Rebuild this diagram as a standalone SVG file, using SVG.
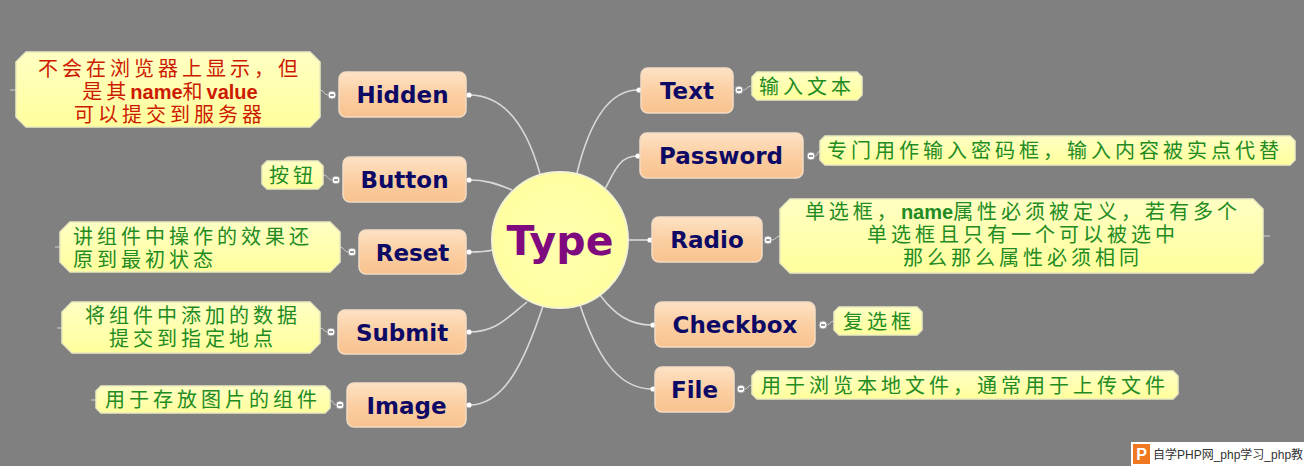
<svg xmlns="http://www.w3.org/2000/svg" width="1304" height="466" viewBox="0 0 1304 466">
<defs>
<linearGradient id="peach" x1="0" y1="0" x2="0" y2="1">
<stop offset="0" stop-color="#fde2c4"/>
<stop offset="0.5" stop-color="#fbcfa3"/>
<stop offset="1" stop-color="#f8c28e"/>
</linearGradient>
<linearGradient id="yel" x1="0" y1="0" x2="0" y2="1">
<stop offset="0" stop-color="#ffffc4"/>
<stop offset="1" stop-color="#ffff9c"/>
</linearGradient>
<radialGradient id="core" cx="0.5" cy="0.5" r="0.5">
<stop offset="0" stop-color="#ffffb0"/>
<stop offset="1" stop-color="#ffffa0"/>
</radialGradient>
</defs>
<style>
.box{fill:url(#peach);stroke:#f4dcc4;stroke-width:1.5}
.note{fill:url(#yel);stroke:#ecebc0;stroke-width:1.5}
.lbl{font-family:"DejaVu Sans",Verdana,sans-serif;font-weight:bold;font-size:23px;fill:#0d0a66;text-anchor:middle}
.nt{font-family:"Liberation Sans","Noto Sans CJK SC",sans-serif;font-size:20px;letter-spacing:4px;fill:#228b22}
.red{fill:#cc1a00}
.b{font-family:"Liberation Sans",sans-serif;font-weight:bold;font-size:20px;letter-spacing:0}
.con{fill:none;stroke:#d9d9d9;stroke-width:1.6}
.sm{fill:none;stroke:#d0d0d0;stroke-width:1}
.dot{fill:#ffffff}
.tog{fill:#ffffff;stroke:#9a9a9a;stroke-width:1}
.dash{stroke:#555;stroke-width:1.2}
</style>
<rect x="0" y="0" width="1304" height="466" fill="#808080"/>

<g id="connectors">
<path class="con" d="M577,173 C590,120 610,90 638,90"/>
<path class="con" d="M605,189 C615,170 620,156 637,156"/>
<path class="con" d="M628,240 L649,240"/>
<path class="con" d="M600,295 C615,315 630,325 652,325"/>
<path class="con" d="M580,305 C595,350 615,389 652,389"/>
<path class="con" d="M540,174 C525,120 500,95 469,95"/>
<path class="con" d="M512,190 C495,183 485,180 469,180"/>
<path class="con" d="M493,250 C485,252 478,252 469,252"/>
<path class="con" d="M527,302 C505,320 495,332 469,332"/>
<path class="con" d="M543,306 C525,360 505,405 469,405"/>
<circle class="dot" cx="639" cy="90" r="2.6"/>
<circle class="dot" cx="638" cy="156" r="2.6"/>
<circle class="dot" cx="650" cy="240" r="2.6"/>
<circle class="dot" cx="653" cy="325" r="2.6"/>
<circle class="dot" cx="653" cy="389" r="2.6"/>
<circle class="dot" cx="469" cy="95" r="2.6"/>
<circle class="dot" cx="469" cy="180" r="2.6"/>
<circle class="dot" cx="469" cy="252" r="2.6"/>
<circle class="dot" cx="469" cy="332" r="2.6"/>
<circle class="dot" cx="469" cy="405" r="2.6"/>
<path class="sm" d="M743,90 C747,90 747,86 752,86"/>
<path class="sm" d="M815,156 C818,156 817,151 820,151"/>
<path class="sm" d="M772,240 C776,240 776,236 780,236"/>
<path class="sm" d="M827,325 C830,325 830,321 834,321"/>
<path class="sm" d="M745,389 C748,389 748,385 752,385"/>
<path class="sm" d="M328,95 C324,95 324,90 320,90"/>
<path class="sm" d="M332,180 C328,180 328,175 323,175"/>
<path class="sm" d="M348,252 C344,252 344,247 340,247"/>
<path class="sm" d="M327,332 C324,332 324,328 320,328"/>
<path class="sm" d="M336,405 C333,405 333,400 330,400"/>
<path class="sm" d="M16,90 L10,90"/>
<path class="sm" d="M1263,236 L1270,236"/>
<path class="sm" d="M60,247 L55,247"/>
<path class="sm" d="M62,328 L57,328"/>
<path class="sm" d="M96,400 L91,400"/>
</g>

<g id="type">
<circle cx="560" cy="240" r="68" fill="url(#core)" stroke="#f3f3d2" stroke-width="2"/>
<text x="560" y="255" font-family="DejaVu Sans,Verdana,sans-serif" font-weight="bold" font-size="41" fill="#7f0a7f" text-anchor="middle">Type</text>
</g>

<g id="text-node">
<rect class="box" x="641" y="68" width="92" height="45" rx="7"/>
<text class="lbl" x="687" y="99">Text</text>
<circle class="tog" cx="739" cy="90" r="4"/><line class="dash" x1="737" y1="90" x2="741" y2="90"/>
<path class="note" d="M757,72 H857 L862,77 V95 L857,100 H757 L752,95 V77 Z"/>
<text class="nt" x="759" y="93.5">输入文本</text>
</g>

<g id="password-node">
<rect class="box" x="640" y="133" width="163" height="45" rx="7"/>
<text class="lbl" x="721" y="164">Password</text>
<circle class="tog" cx="811" cy="156" r="4"/><line class="dash" x1="809" y1="156" x2="813" y2="156"/>
<path class="note" d="M825,136 H1290 L1295,141 V160 L1290,165 H825 L820,160 V141 Z"/>
<text class="nt" x="827" y="158">专门用作输入密码框，输入内容被实点代替</text>
</g>

<g id="radio-node">
<rect class="box" x="652" y="217" width="110" height="45" rx="7"/>
<text class="lbl" x="707" y="248">Radio</text>
<circle class="tog" cx="768" cy="240" r="4"/><line class="dash" x1="766" y1="240" x2="770" y2="240"/>
<path class="note" d="M790,199 H1253 L1263,209 V263 L1253,273 H790 L780,263 V209 Z"/>
<text class="nt" x="1023" y="219" text-anchor="middle">单选框，<tspan class="b">name</tspan>属性必须被定义，若有多个</text>
<text class="nt" x="1023" y="242" text-anchor="middle">单选框且只有一个可以被选中</text>
<text class="nt" x="1023" y="265" text-anchor="middle">那么那么属性必须相同</text>
</g>

<g id="checkbox-node">
<rect class="box" x="655" y="302" width="160" height="45" rx="7"/>
<text class="lbl" x="735" y="333">Checkbox</text>
<circle class="tog" cx="823" cy="325" r="4"/><line class="dash" x1="821" y1="325" x2="825" y2="325"/>
<path class="note" d="M839,307 H917 L922,312 V330 L917,335 H839 L834,330 V312 Z"/>
<text class="nt" x="843" y="328.5">复选框</text>
</g>

<g id="file-node">
<rect class="box" x="655" y="367" width="79" height="45" rx="7"/>
<text class="lbl" x="694.5" y="398">File</text>
<circle class="tog" cx="741" cy="389" r="4"/><line class="dash" x1="739" y1="389" x2="743" y2="389"/>
<path class="note" d="M757,371 H1173 L1178,376 V394 L1173,399 H757 L752,394 V376 Z"/>
<text class="nt" x="761" y="392.5">用于浏览本地文件，通常用于上传文件</text>
</g>

<g id="hidden-node">
<rect class="box" x="339" y="72" width="127" height="45" rx="7"/>
<text class="lbl" x="402.5" y="103">Hidden</text>
<circle class="tog" cx="332" cy="95" r="4"/><line class="dash" x1="330" y1="95" x2="334" y2="95"/>
<path class="note" d="M26,52 H310 L320,62 V117 L310,127 H26 L16,117 V62 Z"/>
<text class="nt red" x="170" y="76" text-anchor="middle">不会在浏览器上显示，但</text>
<text class="nt red" x="170" y="99" text-anchor="middle">是其<tspan class="b">name</tspan>和<tspan class="b">value</tspan></text>
<text class="nt red" x="170" y="122" text-anchor="middle">可以提交到服务器</text>
</g>

<g id="button-node">
<rect class="box" x="343" y="157" width="123" height="45" rx="7"/>
<text class="lbl" x="404.5" y="188">Button</text>
<circle class="tog" cx="336" cy="180" r="4"/><line class="dash" x1="334" y1="180" x2="338" y2="180"/>
<path class="note" d="M267,161 H318 L323,166 V184 L318,189 H267 L262,184 V166 Z"/>
<text class="nt" x="269" y="182.5">按钮</text>
</g>

<g id="reset-node">
<rect class="box" x="359" y="230" width="107" height="44" rx="7"/>
<text class="lbl" x="412.5" y="260.5">Reset</text>
<circle class="tog" cx="352" cy="252" r="4"/><line class="dash" x1="350" y1="252" x2="354" y2="252"/>
<path class="note" d="M70,222 H330 L340,232 V262 L330,272 H70 L60,262 V232 Z"/>
<text class="nt" x="73" y="244">讲组件中操作的效果还</text>
<text class="nt" x="73" y="267">原到最初状态</text>
</g>

<g id="submit-node">
<rect class="box" x="338" y="310" width="128" height="44" rx="7"/>
<text class="lbl" x="402" y="340.5">Submit</text>
<circle class="tog" cx="331" cy="332" r="4"/><line class="dash" x1="329" y1="332" x2="333" y2="332"/>
<path class="note" d="M72,302 H310 L320,312 V343 L310,353 H72 L62,343 V312 Z"/>
<text class="nt" x="193" y="323" text-anchor="middle">将组件中添加的数据</text>
<text class="nt" x="193" y="346" text-anchor="middle">提交到指定地点</text>
</g>

<g id="image-node">
<rect class="box" x="347" y="383" width="119" height="44" rx="7"/>
<text class="lbl" x="406.5" y="413.5">Image</text>
<circle class="tog" cx="340" cy="405" r="4"/><line class="dash" x1="338" y1="405" x2="342" y2="405"/>
<path class="note" d="M101,386 H325 L330,391 V408 L325,413 H101 L96,408 V391 Z"/>
<text class="nt" x="105" y="406.5">用于存放图片的组件</text>
</g>

<g id="logo">
<rect x="1131" y="442" width="173" height="24" fill="#ffffff"/>
<rect x="1133" y="444" width="17" height="20" fill="#f07820"/>
<text x="1141.5" y="460" font-family="Liberation Sans,Arial,sans-serif" font-weight="bold" font-size="16" fill="#ffffff" text-anchor="middle">P</text>
<text x="1153" y="459" font-family="Liberation Sans,Noto Sans CJK SC,sans-serif" font-size="12" fill="#333333">自学PHP网_php学习_php教</text>
</g>
</svg>
